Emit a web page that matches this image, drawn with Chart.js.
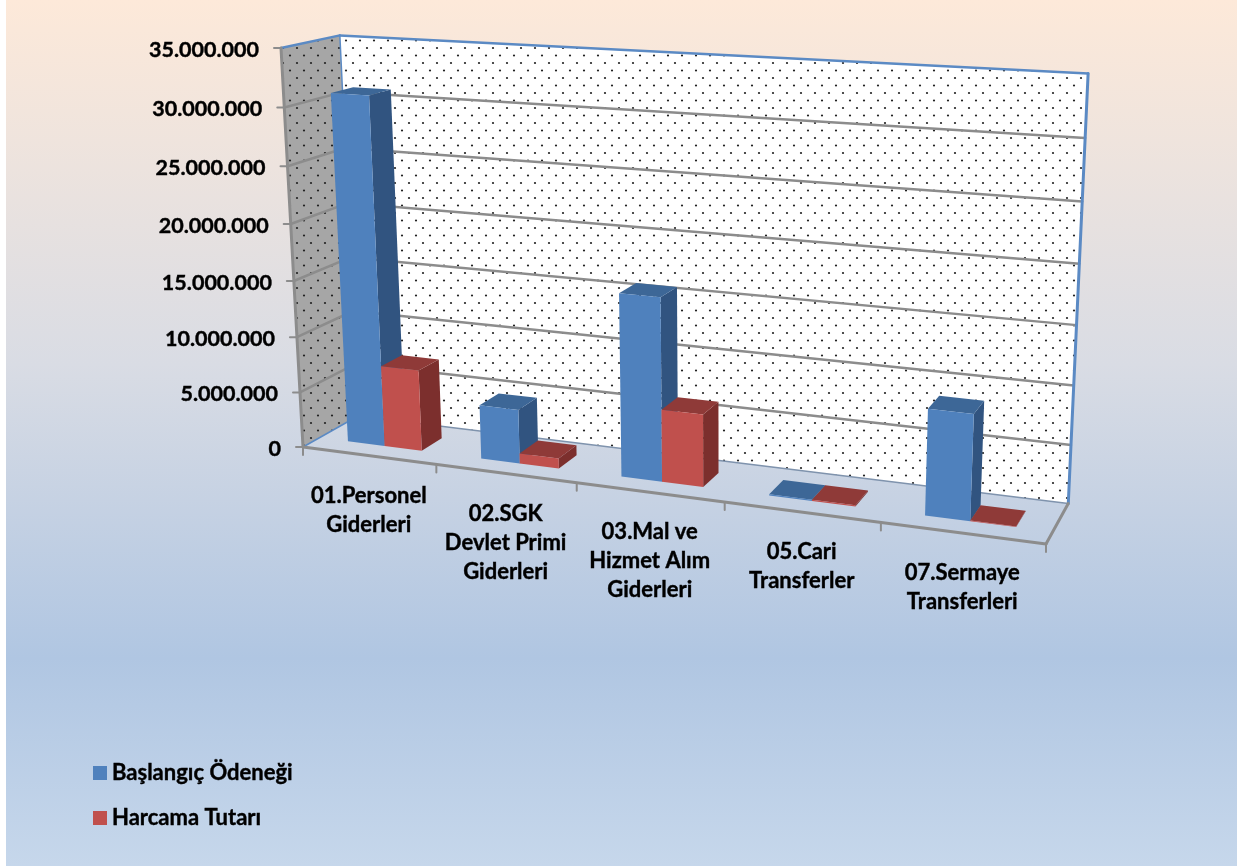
<!DOCTYPE html>
<html>
<head>
<meta charset="utf-8">
<title>Ödenek ve Harcama</title>
<script src="https://cdn.jsdelivr.net/npm/chart.js@4/dist/chart.umd.min.js"></script>
<style>
    body { margin: 0; background: #fff; }
    #box {
        position: absolute; left: 6px; top: 0; width: 1231px; height: 866px;
        background: linear-gradient(to bottom, #fde9d9 0%, #d9dce4 42%, #b0c6e2 76%, #c6d7eb 100%);
    }
    #chart { position: absolute; left: 0; top: 0; }
</style>
</head>
<body>
<div id="box"></div>
<canvas id="chart" width="1244" height="868"></canvas>
<script>
const categories = [
    ['01.Personel', 'Giderleri'],
    ['02.SGK', 'Devlet Primi', 'Giderleri'],
    ['03.Mal ve', 'Hizmet Alım', 'Giderleri'],
    ['05.Cari', 'Transferler'],
    ['07.Sermaye', 'Transferleri']
];
const baslangicOdenegi = [31000000, 4800000, 15900000, 100000, 8900000];
const harcamaTutari = [7300000, 900000, 6300000, 100000, 60000];
const yTickLabels = ['0', '5.000.000', '10.000.000', '15.000.000', '20.000.000', '25.000.000', '30.000.000', '35.000.000'];

const FONT = 'bold 22px Lato';
const TICK_FONT = 'bold 21.5px Lato';

// kutunun koseleri (ekran pikseli): A on-sol-alt, B on-sag-alt, G on-sol-ust, C arka-sol-alt
const A = [303, 447], B = [1046, 544], G = [281, 48], C = [358, 416];
// perspektif agirliklari
const wU = 0.875, wV = 0.95, wW = 1.05;
const DEPTH_FRONT = 0.29, DEPTH_BACK = 0.68;

// u: kategori ekseni, v: deger ekseni, w: derinlik (hepsi 0-1)
function project(u, v, w) {
    const a = 1 - u - v - w;
    const d = a + wU * u + wV * v + wW * w;
    return [
        (a * A[0] + wU * u * B[0] + wV * v * G[0] + wW * w * C[0]) / d,
        (a * A[1] + wU * u * B[1] + wV * v * G[1] + wW * w * C[1]) / d
    ];
}

function poly(ctx, pts, fill) {
    ctx.beginPath();
    pts.forEach((p, i) => i ? ctx.lineTo(p[0], p[1]) : ctx.moveTo(p[0], p[1]));
    ctx.closePath();
    ctx.fillStyle = fill;
    ctx.fill();
}

function line(ctx, a, b, color, width) {
    ctx.beginPath();
    ctx.moveTo(a[0], a[1]);
    ctx.lineTo(b[0], b[1]);
    ctx.strokeStyle = color;
    ctx.lineWidth = width;
    ctx.stroke();
}

// yazilar referansta biraz daha kalin
function text(ctx, str, x, y) {
    ctx.fillStyle = '#000';
    ctx.strokeStyle = '#000';
    ctx.lineWidth = 0.4;
    ctx.fillText(str, x, y);
    ctx.strokeText(str, x, y);
}

// Excel'deki %5 noktali desen
function dotPattern(ctx, bg) {
    const c = document.createElement('canvas');
    c.width = 14; c.height = 15;
    const p = c.getContext('2d');
    p.fillStyle = bg;
    p.fillRect(0, 0, 14, 15);
    p.fillStyle = '#222';
    [[3, 3], [10, 10.5]].forEach(d => {
        p.beginPath();
        p.arc(d[0], d[1], 1.1, 0, Math.PI * 2);
        p.fill();
    });
    return ctx.createPattern(c, 'repeat');
}

const shades = [
    { front: '#4f81bd', side: '#315480', top: '#3d6797' },
    { front: '#c0504d', side: '#7c2f2d', top: '#8f3a38' }
];

const box3d = {
    id: 'box3d',
    beforeDatasetsDraw(chart) {
        const ctx = chart.ctx, area = chart.chartArea;
        const xs = chart.scales.x, ys = chart.scales.y;
        const uOf = px => (px - area.left) / area.width;
        const vOf = px => (area.bottom - px) / area.height;
        const gridColor = '#8c8c8c', wallBlue = '#5b8ac4';

        ctx.save();
        ctx.lineCap = 'round';

        // duvarlar
        poly(ctx, [project(0, 0, 0), project(0, 1, 0), project(0, 1, 1), project(0, 0, 1)], dotPattern(ctx, '#a6a6a6'));
        poly(ctx, [project(0, 0, 1), project(0, 1, 1), project(1, 1, 1), project(1, 0, 1)], dotPattern(ctx, '#ffffff'));

        // yatay kilavuz cizgileri ve y etiketleri
        ctx.font = TICK_FONT;
        ctx.textAlign = 'right';
        ctx.textBaseline = 'middle';
        ys.ticks.forEach((t, i) => {
            const v = vOf(ys.getPixelForValue(t.value));
            const p0 = project(0, v, 0), p1 = project(0, v, 1), p2 = project(1, v, 1);
            if (i > 0 && i < ys.ticks.length - 1) {
                line(ctx, p0, p1, gridColor, 2.5);
                line(ctx, p1, p2, gridColor, 2.5);
            }
            line(ctx, [p0[0] - 7, p0[1]], p0, gridColor, 2);
            text(ctx, yTickLabels[i], p0[0] - 22, p0[1] + 2);
        });

        // kenarlar
        line(ctx, project(0, 1, 0), project(0, 1, 1), wallBlue, 2.5);
        line(ctx, project(0, 1, 1), project(1, 1, 1), wallBlue, 2.5);
        line(ctx, project(1, 1, 1), project(1, 0, 1), wallBlue, 3);
        line(ctx, project(0, 1, 1), project(0, 0, 1), wallBlue, 1.5);
        line(ctx, project(0, 0, 1), project(1, 0, 1), '#7f93ad', 1.5);
        line(ctx, project(0, 0, 0), project(0, 0, 1), wallBlue, 1.5);
        line(ctx, project(0, 0, 0), project(0, 1, 0), gridColor, 3);
        line(ctx, project(0, 0, 0), project(1, 0, 0), gridColor, 3);
        line(ctx, project(1, 0, 0), project(1, 0, 1), gridColor, 3);

        // x ekseni cizgileri ve etiketleri
        for (let i = 0; i <= categories.length; i++) {
            const p = project(i / categories.length, 0, 0);
            line(ctx, p, [p[0], p[1] + 8], gridColor, 2);
        }
        ctx.font = FONT;
        ctx.textAlign = 'center';
        xs.getLabels().forEach((lines, i) => {
            const p = project(uOf(xs.getPixelForValue(i)), 0, 0);
            lines.forEach((txt, k) => text(ctx, txt, p[0], p[1] + 40 + k * 29));
        });

        // sutunlar
        categories.forEach((c, i) => {
            chart.data.datasets.forEach((ds, d) => {
                const bar = chart.getDatasetMeta(d).data[i];
                const u0 = uOf(bar.x - bar.width / 2), u1 = uOf(bar.x + bar.width / 2);
                const v1 = vOf(bar.y), v0 = vOf(bar.base);
                const f = DEPTH_FRONT, b = DEPTH_BACK, s = shades[d];
                poly(ctx, [project(u1, v0, f), project(u1, v1, f), project(u1, v1, b), project(u1, v0, b)], s.side);
                poly(ctx, [project(u0, v1, f), project(u1, v1, f), project(u1, v1, b), project(u0, v1, b)], s.top);
                poly(ctx, [project(u0, v0, f), project(u0, v1, f), project(u1, v1, f), project(u1, v0, f)], s.front);
            });
        });

        // lejant
        ctx.textAlign = 'left';
        chart.data.datasets.forEach((ds, d) => {
            const y = 773 + d * 45;
            ctx.fillStyle = ds.backgroundColor;
            ctx.fillRect(93, y - 7, 14, 14);
            text(ctx, ds.label, 112, y);
        });

        ctx.restore();
        return false;
    }
};

new Chart(document.getElementById('chart'), {
    type: 'bar',
    data: {
        labels: categories,
        datasets: [
            { label: 'Başlangıç Ödeneği', data: baslangicOdenegi, backgroundColor: '#4f81bd', categoryPercentage: 0.56, barPercentage: 1 },
            { label: 'Harcama Tutarı', data: harcamaTutari, backgroundColor: '#c0504d', categoryPercentage: 0.56, barPercentage: 1 }
        ]
    },
    options: {
        responsive: false,
        animation: false,
        plugins: { legend: { display: false }, tooltip: { enabled: false } },
        scales: {
            x: { display: false },
            y: { display: false, min: 0, max: 35000000, ticks: { stepSize: 5000000 } }
        }
    },
    plugins: [box3d]
});
</script>
</body>
</html>
